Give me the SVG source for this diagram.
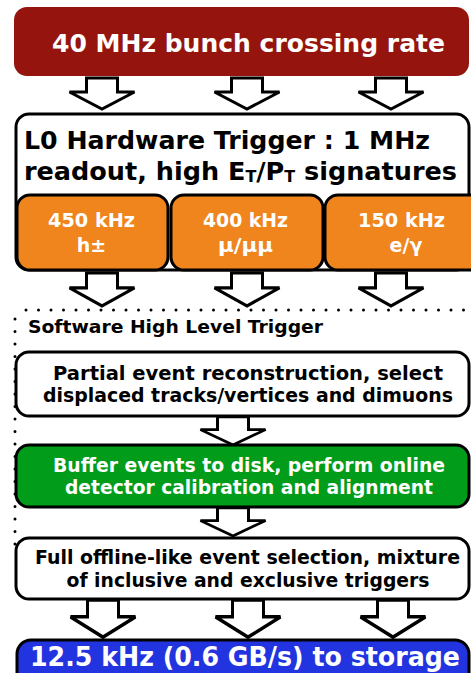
<svg xmlns="http://www.w3.org/2000/svg" width="471" height="673" viewBox="0 0 471 673">
<style>
text{font-family:"DejaVu Sans","Liberation Sans",sans-serif;font-weight:bold}
.w{fill:#fff}.k{fill:#000}
.box{stroke:#000;stroke-width:3}
.arr{fill:#fff;stroke:#000;stroke-width:3;stroke-linejoin:miter}
.dots{fill:none;stroke:#000;stroke-width:3;stroke-linecap:round;stroke-dasharray:0 12.5}
</style>
<defs>
<path id="a" d="M-15.5,0 H15.5 V14 H32.5 L0,31 L-32.5,14 H-15.5 Z"/>
</defs>
<rect width="471" height="673" fill="#fff"/>
<g id="hlt-region">
<line class="dots" x1="26" y1="310" x2="471" y2="310"/>
<line class="dots" x1="15" y1="319" x2="15" y2="545"/>
<text class="k" x="28" y="333" font-size="18" textLength="295" lengthAdjust="spacingAndGlyphs">Software High Level Trigger</text>
</g>
<g id="connectors">
<use href="#a" class="arr" transform="translate(102,78)"/>
<use href="#a" class="arr" transform="translate(247,78)"/>
<use href="#a" class="arr" transform="translate(391,78)"/>
<use href="#a" class="arr" transform="translate(102,273) scale(1,1.06)"/>
<use href="#a" class="arr" transform="translate(247,273) scale(1,1.06)"/>
<use href="#a" class="arr" transform="translate(391,273) scale(1,1.06)"/>
<use href="#a" class="arr" transform="translate(233,417) scale(1,0.9)"/>
<use href="#a" class="arr" transform="translate(233,508) scale(1,0.9)"/>
<use href="#a" class="arr" transform="translate(103,600) scale(1,1.2)"/>
<use href="#a" class="arr" transform="translate(248,600) scale(1,1.2)"/>
<use href="#a" class="arr" transform="translate(393,600) scale(1,1.2)"/>
</g>
<g id="bunch-crossing">
<rect x="14" y="7" width="455" height="69" rx="13" fill="#95150e"/>
<text class="w" x="248.5" y="52" font-size="25" text-anchor="middle" textLength="393" lengthAdjust="spacingAndGlyphs">40 MHz bunch crossing rate</text>
</g>
<g id="l0-trigger">
<rect class="box" x="16" y="114" width="453" height="156" rx="13" fill="#fff"/>
<text class="k" x="24" y="149" font-size="24" textLength="406" lengthAdjust="spacingAndGlyphs">L0 Hardware Trigger : 1 MHz</text>
<text class="k" x="24" y="180" font-size="24" textLength="433" lengthAdjust="spacingAndGlyphs">readout, high E<tspan font-size="15" dy="2">T</tspan><tspan dy="-2">/P</tspan><tspan font-size="15" dy="2">T</tspan><tspan dy="-2"> signatures</tspan></text>
</g>
<g id="l0-hadron">
<rect class="box" x="17" y="195" width="151" height="75" rx="13" fill="#f0841d"/>
<text class="w" x="91.5" y="227" font-size="19" text-anchor="middle" textLength="87" lengthAdjust="spacingAndGlyphs">450 kHz</text>
<text class="w" x="91.5" y="252" font-size="19" text-anchor="middle">h±</text>
</g>
<g id="l0-muon">
<rect class="box" x="171" y="195" width="152" height="75" rx="13" fill="#f0841d"/>
<text class="w" x="245.5" y="227" font-size="19" text-anchor="middle" textLength="85" lengthAdjust="spacingAndGlyphs">400 kHz</text>
<text class="w" x="245.5" y="252" font-size="19" text-anchor="middle" textLength="55" lengthAdjust="spacingAndGlyphs">μ/μμ</text>
</g>
<g id="l0-electron">
<rect class="box" x="325" y="195" width="160" height="75" rx="13" fill="#f0841d"/>
<text class="w" x="401.5" y="227" font-size="19" text-anchor="middle" textLength="87" lengthAdjust="spacingAndGlyphs">150 kHz</text>
<text class="w" x="406" y="252" font-size="19" text-anchor="middle">e/γ</text>
</g>
<g id="hlt1">
<rect class="box" x="16" y="352" width="453" height="64" rx="13" fill="#fff"/>
<text class="k" x="248" y="380" font-size="19" text-anchor="middle" textLength="390" lengthAdjust="spacingAndGlyphs">Partial event reconstruction, select</text>
<text class="k" x="248" y="402" font-size="19" text-anchor="middle" textLength="410" lengthAdjust="spacingAndGlyphs">displaced tracks/vertices and dimuons</text>
</g>
<g id="buffer">
<rect class="box" x="16" y="445" width="453" height="62" rx="13" fill="#009c1a"/>
<text class="w" x="249" y="472" font-size="19" text-anchor="middle" textLength="392" lengthAdjust="spacingAndGlyphs">Buffer events to disk, perform online</text>
<text class="w" x="249" y="494" font-size="19" text-anchor="middle" textLength="368" lengthAdjust="spacingAndGlyphs">detector calibration and alignment</text>
</g>
<g id="hlt2">
<rect class="box" x="16" y="538" width="453" height="61" rx="13" fill="#fff"/>
<text class="k" x="247.5" y="564" font-size="19" text-anchor="middle" textLength="425" lengthAdjust="spacingAndGlyphs">Full offline-like event selection, mixture</text>
<text class="k" x="248" y="587" font-size="19" text-anchor="middle" textLength="363" lengthAdjust="spacingAndGlyphs">of inclusive and exclusive triggers</text>
</g>
<g id="storage">
<rect class="box" x="17" y="640" width="452" height="50" rx="14" fill="#2233e0"/>
<text class="w" x="245" y="666" font-size="26" text-anchor="middle" textLength="430" lengthAdjust="spacingAndGlyphs">12.5 kHz (0.6 GB/s) to storage</text>
</g>
</svg>
